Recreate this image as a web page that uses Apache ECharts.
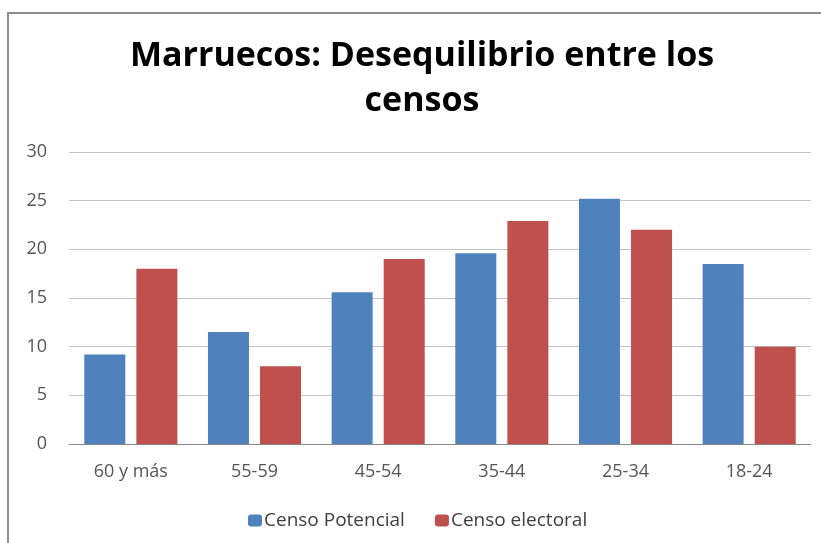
<!DOCTYPE html>
<html><head><meta charset="utf-8">
<script src="https://cdn.jsdelivr.net/npm/echarts@6/dist/echarts.min.js"></script>
<style>html,body{margin:0;padding:0;background:#fff;}#c{width:821px;height:543px;}
#frame{position:absolute;left:7px;top:12px;width:830px;height:600px;border-left:2px solid #8c8c8c;border-top:2px solid #8c8c8c;pointer-events:none;}</style>
</head><body><div id="c"></div><div id="frame"></div>
<script>
const categories = ['60 y más', '55-59', '45-54', '35-44', '25-34', '18-24'];
const censoPotencial = [9.2, 11.5, 15.6, 19.6, 25.2, 18.5];
const censoElectoral = [18, 8, 19, 22.9, 22, 10];
const seriesNames = ['Censo Potencial', 'Censo electoral'];
const chart = echarts.init(document.getElementById('c'));
chart.setOption({
  animation: false,
  title: {
    text: 'Marruecos: Desequilibrio entre los\ncensos',
    left: 417, top: 29, textAlign: 'center',
    textStyle: {fontFamily: 'Open Sans', fontWeight: 'bold', fontSize: 34, color: '#000', lineHeight: 45}
  },
  legend: {
    bottom: 8, left: 243, itemWidth: 14, itemHeight: 12, itemGap: 30,
    textStyle: {fontFamily: 'Open Sans', fontSize: 19, color: '#404040', padding: [0, 0, 0, -3]},
    data: seriesNames
  },
  grid: {left: 69, right: 10, top: 152, bottom: 99},
  xAxis: {
    type: 'category', data: categories,
    axisLine: {lineStyle: {color: '#8a8a8a'}},
    axisTick: {show: false},
    axisLabel: {fontFamily: 'Open Sans', fontSize: 18, color: '#555', margin: 19}
  },
  yAxis: {
    type: 'value', min: 0, max: 30, interval: 5,
    axisLabel: {fontFamily: 'Open Sans', fontSize: 18, color: '#555', margin: 22},
    splitLine: {lineStyle: {color: '#c4c4c4'}},
    axisLine: {show: false}, axisTick: {show: false}
  },
  series: [
    {name: seriesNames[0], type: 'bar', data: censoPotencial, barWidth: 41, barGap: '27%', itemStyle: {color: '#4F81BD'}},
    {name: seriesNames[1], type: 'bar', data: censoElectoral, barWidth: 41, itemStyle: {color: '#C0504D'}}
  ]
});
</script></body></html>
